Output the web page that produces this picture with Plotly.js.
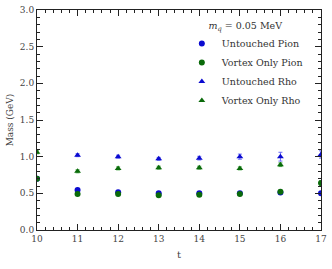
<!DOCTYPE html>
<html><head><meta charset="utf-8">
<script src="https://cdn.plot.ly/plotly-3.0.1.min.js"></script>
<style>html,body{margin:0;padding:0;background:#fff}</style>
</head><body><div id="c" style="width:332px;height:269px"></div>
<script>
const t = [10, 11, 12, 13, 14, 15, 16, 17];
const untouchedPion = [0.70, 0.545, 0.515, 0.50, 0.50, 0.50, 0.51, 0.50];
const untouchedPionErr = [0.01, 0.015, 0.015, 0.015, 0.015, 0.015, 0.02, 0.02];
const vortexPion = [0.70, 0.49, 0.49, 0.475, 0.48, 0.49, 0.52, 0.64];
const vortexPionErr = [0.01, 0.015, 0.015, 0.015, 0.015, 0.015, 0.02, 0.03];
const untouchedRho = [null, 1.02, 1.00, 0.97, 0.98, 1.00, 1.00, 1.03];
const untouchedRhoErr = [0, 0.02, 0.02, 0.02, 0.025, 0.035, 0.06, 0.05];
const vortexRho = [1.06, 0.80, 0.84, 0.85, 0.85, 0.84, 0.89, null];
const vortexRhoErr = [0.02, 0.02, 0.02, 0.02, 0.02, 0.02, 0.025, 0];

const blue = '#0a0ad0', blueErr = '#6a6af5';
const green = '#0a6a0a', greenErr = '#4aaa4a';
function tr(name, y, err, color, ecolor, symbol) {
  return {x: t, y: y, name: name, type: 'scatter', mode: 'markers', cliponaxis: true,
    marker: {color: color, size: 6, symbol: symbol},
    error_y: {type: 'data', array: err, visible: true, color: ecolor, thickness: 1, width: 2}};
}
const data = [
  tr('Untouched Pion', untouchedPion, untouchedPionErr, blue, blueErr, 'circle'),
  tr('Vortex Only Pion', vortexPion, vortexPionErr, green, greenErr, 'circle'),
  tr('Untouched Rho', untouchedRho, untouchedRhoErr, blue, blueErr, 'triangle-up'),
  tr('Vortex Only Rho', vortexRho, vortexRhoErr, green, greenErr, 'triangle-up')
];
const axBase = {showgrid: false, zeroline: false, showline: true, linecolor: '#222', linewidth: 1,
  mirror: 'allticks', ticks: 'inside', ticklen: 6, tickcolor: '#222', tickwidth: 1,
  tickfont: {family: 'DejaVu Serif', size: 9, color: '#444'}};
const layout = {
  width: 332, height: 269,
  margin: {l: 37, r: 11, t: 10, b: 39},
  paper_bgcolor: '#fff', plot_bgcolor: '#fff',
  font: {family: 'DejaVu Serif', color: '#333'},
  showlegend: true,
  legend: {x: 0.51, y: 0.97, xanchor: 'left', yanchor: 'top', bgcolor: 'rgba(0,0,0,0)',
    font: {family: 'DejaVu Serif', size: 9.5, color: '#333'}, itemwidth: 30,
    title: {text: '<i>m</i><sub><i>q</i></sub> = 0.05 MeV', side: 'top center',
      font: {family: 'DejaVu Serif', size: 9.5, color: '#333'}}},
  xaxis: Object.assign({}, axBase, {range: [10, 17], dtick: 1, tick0: 10,
    minor: {dtick: 0.2, ticks: 'inside', ticklen: 3, tickcolor: '#222'},
    title: {text: 't', font: {family: 'DejaVu Serif', size: 10, color: '#444'}, standoff: 8}}),
  yaxis: Object.assign({}, axBase, {range: [0, 3], dtick: 0.5, tick0: 0, tickformat: '.1f',
    minor: {dtick: 0.1, ticks: 'inside', ticklen: 3, tickcolor: '#222'},
    title: {text: 'Mass (GeV)', font: {family: 'DejaVu Serif', size: 9, color: '#444'}, standoff: 4}})
};
Plotly.newPlot('c', data, layout, {displayModeBar: false, staticPlot: true});
</script></body></html>
